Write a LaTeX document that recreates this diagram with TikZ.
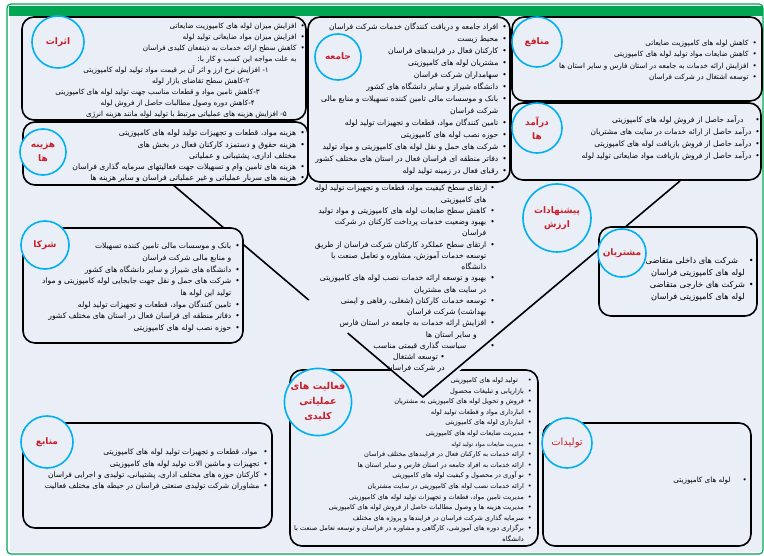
\documentclass[tikz,border=0pt]{standalone}
\usepackage{fontspec}
\usetikzlibrary{positioning}
\usetikzlibrary{calc}
\newfontfamily\farsi[Script=Arabic]{DejaVu Sans}
\TeXXeTstate=1
\definecolor{panel}{RGB}{233,238,247}
\definecolor{frame}{RGB}{0,166,81}
\definecolor{ringblue}{RGB}{0,176,240}
\definecolor{title}{RGB}{204,30,40}
\newlength{\bgap}
\setlength{\bgap}{4pt}
\newcommand{\fa}[1]{{\beginR #1\endR}}
\newcommand{\itm}[1]{\mbox{\fa{#1}\hspace{\bgap}\textbullet}}
\newcommand{\cnt}[1]{\mbox{\fa{#1}\hspace{\bgap}\phantom{\textbullet}}}

\begin{document}
\begin{tikzpicture}[x=1pt,y=-1pt,
    box/.style={draw=black,line width=1.6pt,rounded corners=12pt,fill=panel},
    tag/.style={circle,draw=ringblue,line width=1.6pt,fill=panel,inner sep=0pt,
      text=title,align=center,font=\farsi\bfseries\fontsize{9}{14}\selectfont},
    list/.style 2 args={anchor=north east,inner sep=0pt,align=right,
      font=\farsi\fontsize{#1}{#2}\selectfont},
    vline/.style={line width=1.6pt}]
    \useasboundingbox (0,0) rectangle (764,556);
    \fill[white] (0,0) rectangle (764,556);
    \draw[frame,line width=1.2pt,rounded corners=4pt] (7,4) rectangle (763,554);
    \fill[panel] (10,16) rectangle (762,552);
    \fill[frame] (9,6) rectangle (763,16);

    % key activities box with the notch of the value triangle
    \draw[box] (290,370) rectangle (538,546);
    \fill[panel] (386,366) -- (423,397) -- (466,366) -- cycle;
    \coordinate (vleft) at (172,184);
    \coordinate (vright) at (680,181);
    \coordinate (vtip) at (423,397);
    \draw[vline] (vleft) -- ($(vleft)!0.545!(vtip)$);
    \draw[vline] ($(vleft)!0.70!(vtip)$) -- (vtip) -- (vright);

    \draw[box] (22,17) rectangle (306,120);
    \draw[box] (308,17) rectangle (510,182);
    \draw[box] (512,17) rectangle (762,101);
    \draw[box] (23,122) rectangle (308,185);
    \draw[box] (511,103) rectangle (761,180);
    \draw[box] (23,228) rectangle (243,343);
    \draw[box] (599,227) rectangle (757,316);
    \draw[box] (23,423) rectangle (272,528);
    \draw[box] (543,423) rectangle (751,546);

    \node[list={7.2}{11.1}] (atharlist) at (305,22.4) {
      \itm{افزایش میزان لوله های کامپوزیت ضایعاتی}\\
      \itm{افزایش میزان مواد ضایعاتی تولید لوله}\\
      \itm{کاهش سطح ارائه خدمات به ذینفعان کلیدی فراسان}\\
      \cnt{به علت مواجه این کسب و کار با:}\\
      \mbox{\fa{۱- افزایش نرخ ارز و اثر آن بر قیمت مواد تولید لوله کامپوزیتی}\hspace{36pt}}\\
      \mbox{\fa{۲-کاهش سطح تقاضای بازار لوله}\hspace{55pt}}\\
      \mbox{\fa{۳-کاهش تامین مواد و قطعات مناسب جهت تولید لوله های کامپوزیتی}\hspace{45pt}}\\
      \mbox{\fa{۴-کاهش دوره وصول مطالبات حاصل از فروش لوله}\hspace{50pt}}\\
      \mbox{\fa{۵- افزایش هزینه های عملیاتی مرتبط با تولید لوله مانند هزینه انرژی}\hspace{18pt}}};

    \node[list={7.6}{12}] (jamelist) at (507,22.8) {
      \itm{افراد جامعه و دریافت کنندگان خدمات  شرکت فراسان}\\
      \itm{محیط زیست}\\
      \itm{کارکنان فعال در فرایندهای فراسان}\\
      \itm{مشتریان لوله های کامپوزیتی}\\
      \itm{سهامداران شرکت فراسان}\\
      \itm{دانشگاه شیراز و سایر دانشگاه های کشور}\\
      \itm{بانک و موسسات مالی تامین کننده تسهیلات و منابع مالی}\\
      \cnt{شرکت فراسان}\\
      \itm{تامین کنندگان مواد، قطعات و تجهیزات تولید لوله}\\
      \itm{حوزه نصب لوله های کامپوزیتی}\\
      \itm{شرکت های حمل و نقل لوله های کامپوزیتی و مواد تولید}\\
      \itm{دفاتر منطقه ای فراسان فعال در استان های مختلف کشور}\\
      \itm{رقبای فعال در زمینه تولید لوله}};

    \node[list={7.2}{11.5}] (manafelist) at (757,39.8) {
      \itm{کاهش  لوله های کامپوزیت ضایعاتی}\\
      \itm{کاهش ضایعات مواد تولید لوله های کامپوزیتی}\\
      \itm{افزایش ارائه خدمات به جامعه در استان فارس و سایر استان ها}\\
      \itm{توسعه اشتغال در شرکت فراسان}};

    \node[list={7.7}{11.2}] (hazinelist) at (305,129.8) {
      \itm{هزینه مواد، قطعات و تجهیزات تولید لوله های کامپوزیتی}\\
      \itm{هزینه حقوق و دستمزد کارکنان فعال در بخش های}\\
      \cnt{مختلف اداری، پشتیبانی و عملیاتی}\\
      \itm{هزینه های تامین وام و تسهیلات جهت فعالیتهای سرمایه گذاری فراسان}\\
      \itm{هزینه های سربار عملیاتی و غیر عملیاتی فراسان و سایر هزینه ها}};

    \node[list={7.5}{12}] (daramadlist) at (760,114.8) {\setlength{\bgap}{12pt}%
      \itm{درآمد حاصل از فروش لوله های کامپوزیتی}\\
      \itm{درآمد حاصل از ارائه خدمات در سایت های مشتریان}\\
      \itm{درآمد حاصل از فروش بازیافت لوله های کامپوزیتی}\\
      \itm{درآمد حاصل از فروش بازیافت مواد ضایعاتی تولید لوله}};

    \node[list={7.6}{11.7}] (shorakalist) at (240,242.8) {
      \itm{بانک و موسسات مالی تامین کننده تسهیلات}\\
      \cnt{و منابع مالی شرکت فراسان}\\
      \itm{دانشگاه های شیراز و سایر دانشگاه های کشور}\\
      \itm{شرکت های حمل و نقل جهت جابجایی لوله کامپوزیتی و مواد}\\
      \cnt{تولید این لوله ها}\\
      \itm{تامین کنندگان مواد، قطعات و تجهیزات تولید لوله}\\
      \itm{دفاتر منطقه ای فراسان فعال در استان های مختلف کشور}\\
      \itm{حوزه نصب لوله های کامپوزیتی}};

    \node[list={7.6}{11.25}] (arzeshlist) at (495,184.8) {\setlength{\bgap}{3pt}%
      \itm{ارتقای سطح کیفیت مواد، قطعات و تجهیزات تولید لوله}\\
      \cnt{های کامپوزیتی}\\
      \itm{کاهش سطح ضایعات لوله های کامپوزیتی و مواد تولید}\\
      \itm{بهبود وضعیت خدمات پرداخت کارکنان در شرکت}\\
      \cnt{فراسان}\\
      \itm{ارتقای سطح عملکرد کارکنان شرکت فراسان از طریق}\\
      \cnt{توسعه خدمات آموزش، مشاوره و تعامل صنعت با}\\
      \cnt{دانشگاه}\\
      \itm{بهبود و توسعه ارائه خدمات نصب لوله های کامپوزیتی}\\
      \cnt{در سایت های مشتریان}\\
      \itm{توسعه خدمات کارکنان (شغلی، رفاهی و ایمنی}\\
      \cnt{بهداشت) شرکت فراسان}\\
      \itm{افزایش ارائه خدمات به جامعه در استان فارس}\\
      \mbox{\fa{و سایر استان ها}\hspace{18pt}}\\
      \mbox{\fa{سیاست گذاری قیمتی مناسب}\hspace{24pt}\textbullet}\\
      \mbox{\fa{\textbullet{} توسعه اشتغال}\hspace{50pt}}\\
      \mbox{\fa{در شرکت فراسان}\hspace{50pt}}};

    \node[list={8.2}{12}] (moshtarilist) at (754,257.5) {\setlength{\bgap}{11pt}%
      \itm{شرکت های داخلی متقاضی}\\
      \cnt{لوله های کامپوزیتی فراسان}\\
      \itm{شرکت های خارجی متقاضی}\\
      \cnt{لوله های کامپوزیتی فراسان}};

    \node[list={6.6}{10.6}] (faaliatlist) at (532,377.2) {\setlength{\bgap}{10pt}%
      \itm{تولید لوله های کامپوزیتی}\\
      \itm{بازاریابی و تبلیغات محصول}\\
      \itm{فروش و تحویل لوله های کامپوزیتی به مشتریان}\\
      \itm{انبارداری مواد و قطعات تولید لوله}\\
      \itm{انبارداری لوله های کامپوزیتی}\\
      \itm{مدیریت ضایعات لوله های کامپوزیتی}\\
      \itm{\fontsize{5.6}{10.6}\selectfont مدیریت ضایعات مواد تولید لوله}\\
      \itm{ارائه خدمات به کارکنان فعال در فرایندهای مختلف فراسان}\\
      \itm{ارائه خدمات به افراد جامعه در استان فارس و سایر استان ها}\\
      \itm{نو آوری در محصول و کیفیت لوله های کامپوزیتی}\\
      \itm{ارائه خدمات نصب لوله های کامپوزیتی در سایت مشتریان}\\
      \itm{مدیریت تامین مواد، قطعات و تجهیزات تولید لوله های کامپوزیتی}\\
      \itm{مدیریت هزینه ها و وصول مطالبات حاصل از فروش لوله های کامپوزیتی}\\
      \itm{سرمایه گذاری شرکت فراسان در فرایندها و پروژه های مختلف}\\
      \itm{برگزاری دوره های آموزشی، کارگاهی و مشاوره در فراسان و توسعه تعامل صنعت با}\\
      \cnt{دانشگاه}};

    \node[list={7.5}{11.3}] (manabelist) at (268,449) {\setlength{\bgap}{6pt}%
      \itm{مواد، قطعات و تجهیزات تولید لوله های کامپوزیتی}\\
      \itm{تجهیزات و ماشین الات تولید لوله های کامپوزیتی}\\
      \itm{کارکنان حوزه های مختلف اداری، پشتیبانی، تولیدی و اجرایی فراسان}\\
      \itm{مشاوران شرکت تولیدی صنعتی فراسان در حیطه های مختلف فعالیت}};

    \node[list={7.2}{11.3}] (tolidatlist) at (747,477) {\setlength{\bgap}{12pt}%
      \itm{لوله های کامپوزیتی}};

    \node[tag,minimum size=52pt] (athar) at (58,42) {\fa{اثرات}};
    \node[tag,minimum size=46pt] (jame) at (338,57) {\fa{جامعه}};
    \node[tag,minimum size=50pt] (manafe) at (537,42) {\fa{منافع}};
    \node[tag,minimum size=46pt] (hazine) at (43,152) {\fa{هزینه}\\\fa{ها}};
    \node[tag,minimum size=50pt] (daramad) at (537,128) {\fa{درآمد}\\\fa{ها}};
    \node[tag,minimum size=48pt] (shoraka) at (45,245) {\fa{شرکا}};
    \node[tag,minimum size=68pt] (pishnahad) at (557,218) {\fa{پیشنهادات}\\\fa{ارزش}};
    \node[tag,minimum size=48pt] (moshtari) at (622,253) {\fa{مشتریان}};
    \node[tag,minimum size=64pt,font=\farsi\bfseries\fontsize{9.5}{15}\selectfont]
      (faaliat) at (318,402) {\fa{فعالیت های}\\\fa{عملیاتی}\\\fa{کلیدی}};
    \node[tag,minimum size=52pt] (manabe) at (47,442) {\fa{منابع}};
    \node[tag,minimum size=50pt,font=\farsi\fontsize{10}{14}\selectfont]
      (tolidat) at (567,443) {\fa{تولیدات}};
\end{tikzpicture}
\end{document}
